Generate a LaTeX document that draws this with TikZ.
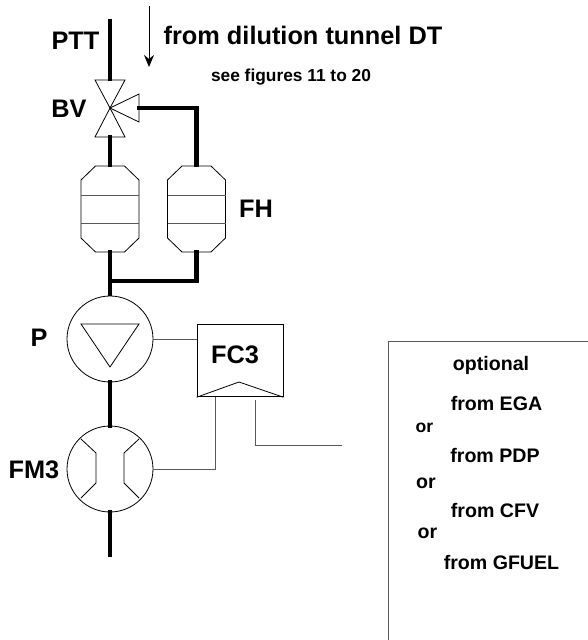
\documentclass[tikz,border=0pt]{standalone}
\usepackage{fontspec}
\setmainfont{Liberation Sans}
\usetikzlibrary{shapes,arrows,positioning,calc,arrows.meta}
\tikzset{
    pipe/.style={line width=3.6pt},
    signal/.style={line width=0.75pt, black!65},
    symbol/.style={line width=0.6pt},
    roundbox/.style={circle, draw, symbol, minimum size=64.5pt, inner sep=0pt},
    biglabel/.style={anchor=base, inner sep=0pt, font=\bfseries\fontsize{19}{20}\selectfont},
    midlabel/.style={anchor=base, inner sep=0pt, font=\bfseries\fontsize{14.7}{16}\selectfont},
    smalllabel/.style={anchor=base, inner sep=0pt, font=\bfseries\fontsize{13}{14}\selectfont},
    filterpic/.pic={
        \draw[symbol] (-14.5,-43) -- (14.5,-43) -- (29,-29) -- (29,29) -- (14.5,43) -- (-14.5,43) -- (-29,29) -- (-29,-29) -- cycle;
        \draw[symbol, black!65] (-29,-14) -- (29,-14);
        \draw[symbol, black!65] (-29,14.5) -- (29,14.5);
        \coordinate (-top) at (0,-42);
        \coordinate (-bottom) at (0,41);
    }
}
\begin{document}
\begin{tikzpicture}[x=0.75pt, y=-0.75pt]
    \useasboundingbox (0,0) rectangle (588,640);

    % Valve
    \coordinate (BV) at (110,108);
    \coordinate (BVtop) at (110,81);
    \coordinate (BVbottom) at (110,135);
    \coordinate (BVright) at (137,108);
    \draw[symbol] (BV) -- (95,80) -- (125,80) -- cycle;
    \draw[symbol] (BV) -- (95,137) -- (125,137) -- cycle;
    \draw[symbol] (BV) -- (139,94) -- (139,122) -- cycle;

    % Filters
    \pic (FHa) at (110,209) {filterpic};
    \pic (FHb) at (196.5,209) {filterpic};

    % Pump and flow meter
    \node[roundbox] (P) at (110,339) {};
    \node[roundbox] (FM) at (110,469) {};
    \draw[symbol] (81,324) -- (139,324) -- (110,367) -- cycle;
    \draw[symbol] (81,439) -- (96,453) -- (96,483) -- (81,498);
    \draw[symbol] (139,439) -- (124,453) -- (124,483) -- (139,498);

    % Flow controller
    \node[rectangle, draw, symbol, minimum width=64.5pt, minimum height=54.5pt, inner sep=0pt] (FC) at (240,360.5) {};
    \draw[symbol] (FC.south west) -- (239,382) -- (FC.south east);
    \coordinate (FCin) at (215,397);
    \coordinate (FCout) at (255,400);
    \coordinate (FCend) at (342,445);

    % Main line
    \coordinate (PTTtop) at (110,19);
    \coordinate (FMend) at (110,557);
    \coordinate (Tee) at (110,281);
    \draw[pipe] (PTTtop) -- (BVtop);
    \draw[pipe] (BVbottom) -- (FHa-top);
    \draw[pipe] (BVright) -| (FHb-top);
    \draw[pipe] (FHa-bottom) -- (P.north);
    \draw[pipe] (FHb-bottom) |- (Tee);
    \draw[pipe] ($(P.south)+(0,-2)$) -- ($(FM.north)+(0,2)$);
    \draw[pipe] ($(FM.south)+(0,-2)$) -- (FMend);

    % Signal lines
    \draw[signal] (P.east) -- (P.east -| FC.west);
    \draw[signal] (FM.east) -| (FCin);
    \draw[signal] (FCout) |- (FCend);

    % Flow arrow
    \coordinate (Flowtop) at (149,6);
    \coordinate (Flowend) at (149,67);
    \draw[-{Stealth[length=9pt,width=7.5pt]}, line width=0.75pt] (Flowtop) -- (Flowend);

    % Optional box
    \coordinate (Optleft) at (388,640);
    \coordinate (Optcorner) at (388,341);
    \coordinate (Optright) at (588,341);
    \draw[signal] (Optleft) -- (Optcorner) -- (Optright);

    % Labels
    \node[biglabel] (PTT) at (75.5,49) {PTT};
    \node[biglabel] (BVlabel) at (69,117) {BV};
    \node[biglabel] (FH) at (256,217) {FH};
    \node[biglabel] (Plabel) at (39,346) {P};
    \node[biglabel] (FM3) at (34,478) {FM3};
    \node[biglabel] (FC3) at (235,363) {FC3};
    \node[biglabel] (dilution) at (303,44) {from dilution tunnel DT};
    \node[smalllabel] (figures) at (291,81) {see figures 11 to 20};
    \node[midlabel] (optional) at (491,370) {optional};
    \node[midlabel] (EGA) at (496.5,410) {from EGA};
    \node[font=\bfseries\fontsize{13.2}{15}\selectfont, anchor=base, inner sep=0pt] (orA) at (424.5,432) {or};
    \node[midlabel] (PDP) at (495,462) {from PDP};
    \node[midlabel] (orB) at (426,488) {or};
    \node[midlabel] (CFV) at (495,517) {from CFV};
    \node[midlabel] (orC) at (427.5,538) {or};
    \node[midlabel] (GFUEL) at (501.5,569) {from GFUEL};
\end{tikzpicture}
\end{document}
